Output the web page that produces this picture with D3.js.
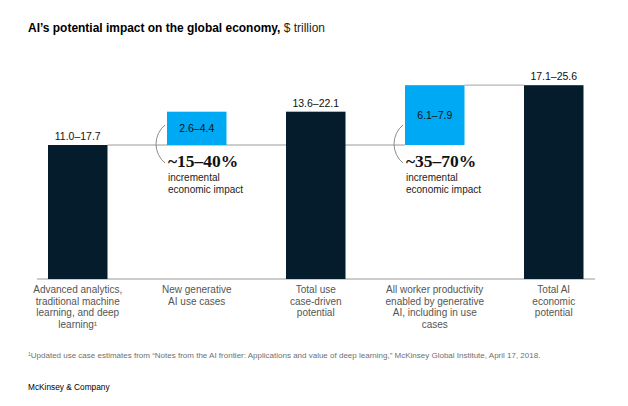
<!DOCTYPE html>
<html>
<head>
<meta charset="utf-8">
<script src="https://cdn.jsdelivr.net/npm/d3@7"></script>
<style>
  html, body { margin: 0; padding: 0; background: #fff; }
  svg { display: block; font-family: "Liberation Sans", Arial, sans-serif; }
</style>
</head>
<body>
<svg id="chart" width="628" height="406"></svg>
<script>
// ---- data ----
const categories = [
  "Advanced analytics, traditional machine learning, and deep learning",
  "New generative AI use cases",
  "Total use case-driven potential",
  "All worker productivity enabled by generative AI, including in use cases",
  "Total AI economic potential"
];
const categoryLines = [
  ["Advanced analytics,", "traditional machine", "learning, and deep", "learning¹"],
  ["New generative", "AI use cases"],
  ["Total use", "case-driven", "potential"],
  ["All worker productivity", "enabled by generative", "AI, including in use", "cases"],
  ["Total AI", "economic", "potential"]
];
const barKinds = ["total", "increment", "total", "increment", "total"];
const startValues = [0, 17.7, 0, 17.7, 0];
const lowValues = [11.0, 2.6, 13.6, 6.1, 17.1];
const highValues = [17.7, 4.4, 22.1, 7.9, 25.6];
const impactLabels = [null, "~15–40%", null, "~35–70%", null];
const impactSubLines = ["incremental", "economic impact"];
const titleBold = "AI’s potential impact on the global economy,";
const titleUnit = " $ trillion";
const footnote = "Updated use case estimates from \u201CNotes from the AI frontier: Applications and value of deep learning,\u201D McKinsey Global Institute, April 17, 2018.";
const source = "McKinsey & Company";

// ---- layout ----
const svg = d3.select("#chart");
const dark = "#051c2c";
const blue = "#00a9f4";

const x = d3.scaleBand().domain(categories).range([48, 583.5]).paddingInner(0.5).paddingOuter(0);
const y = d3.scaleLinear().domain([0, 17.7]).range([279, 145]);

const fmt = d3.format(".1f");
const rangeLabel = i => fmt(lowValues[i]) + "–" + fmt(highValues[i]);

// title (condensed horizontally to match the narrow original face)
const titleG = svg.append("g");
const title = titleG.append("text").attr("x", 0).attr("y", 0)
  .attr("font-size", 13.5).attr("fill", "#000");
title.append("tspan").attr("font-weight", "bold").text(titleBold);
title.append("tspan").attr("font-weight", "normal").attr("fill", "#222").text(titleUnit);
const tw = title.node().getComputedTextLength();
titleG.attr("transform", `translate(28,32) scale(${297 / tw},1)`);

// connector line at the base of the increments, behind the bars
svg.append("line")
  .attr("x1", x(categories[0]) + x.bandwidth())
  .attr("x2", x(categories[3]))
  .attr("y1", y(startValues[1])).attr("y2", y(startValues[1]))
  .attr("stroke", "#9a9a9a").attr("stroke-width", 1);
// top connector from last increment to total
svg.append("line")
  .attr("x1", x(categories[3]) + x.bandwidth())
  .attr("x2", x(categories[4]))
  .attr("y1", y(highValues[4])).attr("y2", y(highValues[4]))
  .attr("stroke", "#b5b5b5").attr("stroke-width", 1.2);

// baseline
svg.append("line")
  .attr("x1", 37).attr("x2", 595)
  .attr("y1", y(0)).attr("y2", y(0))
  .attr("stroke", "#9a9a9a").attr("stroke-width", 1);

// bars
svg.selectAll("rect.bar").data(categories).join("rect")
  .attr("class", "bar")
  .attr("x", d => x(d))
  .attr("width", x.bandwidth())
  .attr("y", (d, i) => barKinds[i] === "total" ? y(highValues[i]) : y(startValues[i] + highValues[i]))
  .attr("height", (d, i) => barKinds[i] === "total" ? y(0) - y(highValues[i]) : y(startValues[i]) - y(startValues[i] + highValues[i]))
  .attr("fill", (d, i) => barKinds[i] === "total" ? dark : blue);

// value labels
categories.forEach((c, i) => {
  const cx = x(c) + x.bandwidth() / 2;
  if (barKinds[i] === "total") {
    svg.append("text").attr("x", cx).attr("y", y(highValues[i]) - 5)
      .attr("text-anchor", "middle").attr("font-size", 10.5).attr("fill", "#111")
      .text(rangeLabel(i));
  } else {
    const top = y(startValues[i] + highValues[i]);
    const bot = y(startValues[i]);
    svg.append("text").attr("x", cx).attr("y", (top + bot) / 2)
      .attr("dy", "0.35em")
      .attr("text-anchor", "middle").attr("font-size", 10.5).attr("fill", "#111")
      .text(rangeLabel(i));
  }
});

// impact annotations
categories.forEach((c, i) => {
  if (!impactLabels[i]) return;
  const bx = x(c);
  const by = y(startValues[i]);
  const x0 = bx - 2;
  const y0 = by - 20, y1 = by + 18;
  const r = 24.6;
  svg.append("path")
    .attr("d", `M${x0},${y0} A${r},${r} 0 0 0 ${x0},${y1}`)
    .attr("fill", "none").attr("stroke", "#8c8c8c").attr("stroke-width", 1);
  svg.append("text").attr("x", bx + 1).attr("y", by + 22)
    .attr("font-family", "'Liberation Serif', 'Times New Roman', serif")
    .attr("font-weight", "bold").attr("font-size", 17.5).attr("fill", "#111")
    .text(impactLabels[i]);
  impactSubLines.forEach((s, k) => {
    svg.append("text").attr("x", bx + 1).attr("y", by + 36 + k * 11.5)
      .attr("font-size", 10).attr("fill", "#222").text(s);
  });
});

// category labels
categories.forEach((c, i) => {
  const cx = x(c) + x.bandwidth() / 2;
  const t = svg.append("text").attr("text-anchor", "middle")
    .attr("font-size", 10).attr("fill", "#555");
  categoryLines[i].forEach((line, k) => {
    t.append("tspan").attr("x", cx).attr("y", 293 + k * 11.7).text(line);
  });
});

// footnote
const fn = svg.append("text").attr("x", 28).attr("y", 358)
  .attr("font-size", 8).attr("fill", "#6f6f6f");
fn.append("tspan").attr("font-size", 5).attr("dy", -2.5).text("1");
fn.append("tspan").attr("dy", 2.5).text(footnote);

// source
svg.append("text").attr("x", 28).attr("y", 390)
  .attr("font-size", 8.3).attr("font-weight", "500").attr("fill", "#000").text(source);
</script>
</body>
</html>
